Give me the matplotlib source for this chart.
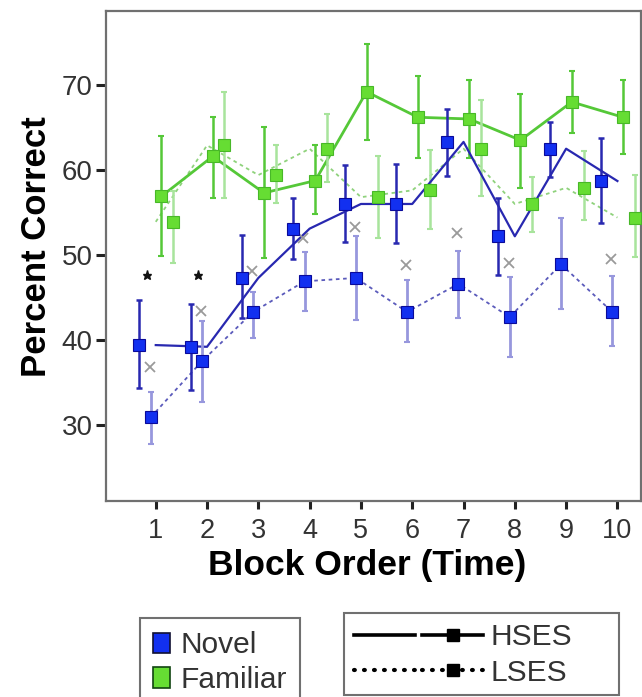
import matplotlib
matplotlib.use('Agg')
import matplotlib.pyplot as plt
import numpy as np
from matplotlib.lines import Line2D
from matplotlib.patches import Patch, Rectangle
from matplotlib.legend_handler import HandlerTuple

plt.rcParams['font.family'] = ['Liberation Sans', 'DejaVu Sans']

# ---------------- data ----------------
blocks = [1, 2, 3, 4, 5, 6, 7, 8, 9, 10]
tick_labels = ['1', '2', '3', '4', '5', '6', '7', '8', '9', '10']

novel_hses = [39.4, 39.2, 47.3, 53.1, 56.0, 56.0, 63.3, 52.2, 62.5, 58.7]
novel_hses_lo = [34.35, 34.1, 42.6, 49.5, 51.5, 51.4, 59.3, 47.6, 59.2, 53.8]
novel_hses_hi = [44.7, 44.2, 52.35, 56.7, 60.6, 60.7, 67.2, 56.7, 65.7, 63.8]

novel_lses = [30.9, 37.5, 43.3, 46.9, 47.3, 43.3, 46.6, 42.7, 48.9, 43.3]
novel_lses_lo = [27.8, 32.7, 40.2, 43.4, 42.35, 39.8, 42.6, 38.0, 43.7, 39.3]
novel_lses_hi = [33.9, 42.2, 45.7, 50.4, 52.2, 47.1, 50.5, 47.45, 54.3, 47.5]

familiar_hses = [56.9, 61.6, 57.3, 58.75, 69.2, 66.2, 66.0, 63.5, 68.0, 66.2]
familiar_hses_lo = [49.9, 56.7, 49.7, 54.8, 63.5, 61.4, 61.45, 57.9, 64.3, 61.9]
familiar_hses_hi = [64.0, 66.2, 65.0, 62.9, 74.8, 71.0, 70.6, 68.9, 71.6, 70.6]

familiar_lses = [53.9, 62.9, 59.4, 62.5, 56.8, 57.6, 62.5, 56.0, 57.9, 54.4]
familiar_lses_lo = [49.0, 56.7, 56.1, 58.6, 52.0, 53.0, 56.9, 52.7, 54.1, 49.8]
familiar_lses_hi = [57.5, 69.2, 62.9, 66.55, 61.6, 62.4, 68.2, 59.2, 62.2, 59.4]

cross_values = [36.8, 43.45, 48.1, 52.0, 53.3, 48.8, 52.6, 49.0, np.nan, 49.5]
star_blocks = [1, 2]
star_values = [47.7, 47.7]

# ---------------- figure ----------------
fig = plt.figure(figsize=(6.42, 6.97), dpi=100)
ax = fig.add_axes([106 / 642, 1 - 501 / 697, (640.5 - 106) / 642, (501 - 11) / 697])

b = np.array(blocks, dtype=float)

def err(m, lo, hi):
    m = np.array(m); lo = np.array(lo); hi = np.array(hi)
    return [m - lo, hi - m]

# colours
NOV_FACE = '#1230f0'
NOV_EDGE = '#0a0a9a'
NOV_H = '#2828b0'
NOV_L_ERR = '#9797dd'
NOV_L_LINE = '#5a5abb'
FAM_FACE = '#66dd33'
FAM_EDGE = '#48b828'
FAM_H = '#55c838'
FAM_L_ERR = '#a8e49c'
FAM_L_LINE = '#8fd27c'

# lines
ax.plot(b, familiar_lses, ls=(0, (2, 2)), color=FAM_L_LINE, lw=1.3, zorder=2)
ax.plot(b + 0.11, familiar_hses, ls='-', color=FAM_H, lw=2.0, zorder=2)
ax.plot(b - 0.10, novel_lses, ls=(0, (2, 2)), color=NOV_L_LINE, lw=1.3, zorder=2)
ax.plot(b, novel_hses, ls='-', color=NOV_H, lw=1.6, zorder=3)

# error bars
ax.errorbar(b + 0.34, familiar_lses, yerr=err(familiar_lses, familiar_lses_lo, familiar_lses_hi),
            fmt='none', ecolor=FAM_L_ERR, elinewidth=1.8, capsize=2, capthick=1.5, zorder=2)
ax.errorbar(b + 0.11, familiar_hses, yerr=err(familiar_hses, familiar_hses_lo, familiar_hses_hi),
            fmt='none', ecolor=FAM_H, elinewidth=1.8, capsize=2, capthick=1.5, zorder=2)
ax.errorbar(b - 0.10, novel_lses, yerr=err(novel_lses, novel_lses_lo, novel_lses_hi),
            fmt='none', ecolor=NOV_L_ERR, elinewidth=2.0, capsize=2, capthick=1.5, zorder=3)
ax.errorbar(b - 0.32, novel_hses, yerr=err(novel_hses, novel_hses_lo, novel_hses_hi),
            fmt='none', ecolor=NOV_H, elinewidth=1.8, capsize=2, capthick=1.8, zorder=3)

# markers
ms = 8.5
ax.plot(b + 0.34, familiar_lses, 's', ms=ms, mfc=FAM_FACE, mec=FAM_EDGE, mew=0.8, zorder=4)
ax.plot(b + 0.11, familiar_hses, 's', ms=ms, mfc=FAM_FACE, mec=FAM_EDGE, mew=0.8, zorder=4)
ax.plot(b - 0.10, novel_lses, 's', ms=ms, mfc=NOV_FACE, mec=NOV_EDGE, mew=0.8, zorder=5)
ax.plot(b - 0.32, novel_hses, 's', ms=ms, mfc=NOV_FACE, mec=NOV_EDGE, mew=0.8, zorder=5)

# gray crosses and stars
ax.plot(b - 0.12, cross_values, 'x', ms=7.5, mew=1.3, color='#9a9a9a', zorder=4)
ax.plot(np.array(star_blocks) - 0.17, star_values, '*', ms=6.5, color='#111111', zorder=4)

# axes formatting
ax.set_xlim(0.03, 10.45)
ax.set_ylim(21.06, 78.7)
ax.set_xticks(blocks)
ax.set_xticklabels(tick_labels)
ax.set_yticks([30, 40, 50, 60, 70])
for s in ax.spines.values():
    s.set_color('#707070')
    s.set_linewidth(1.6)
ax.tick_params(axis='y', direction='out', length=7.5, width=2.2, color='#222222',
               labelsize=20, labelcolor='#333333', pad=2)
ax.tick_params(axis='x', direction='out', length=6, width=2.2, color='#222222',
               labelsize=19.5, labelcolor='#333333', pad=6)
ax.set_xlabel('Block Order (Time)', fontsize=25.5, fontweight='bold', labelpad=4)
ax.set_ylabel('Percent Correct', fontsize=25, fontweight='bold', labelpad=6)
ax.xaxis.label.set_x(0.488)
ax.yaxis.label.set_y(0.52)

# legends
h_nov = Patch(facecolor=NOV_FACE, edgecolor='#111133', lw=1.2)
h_fam = Patch(facecolor=FAM_FACE, edgecolor='#114411', lw=1.2)
leg1 = fig.legend([h_nov, h_fam], ['Novel', 'Familiar'], loc='upper left',
                  bbox_to_anchor=(140 / 642, 1 - 618 / 697), bbox_transform=fig.transFigure,
                  borderaxespad=0, fontsize=21.5, fancybox=False, edgecolor='#707070',
                  handlelength=0.55, handleheight=0.7, handletextpad=0.35, borderpad=0.45,
                  labelspacing=0.22, framealpha=1)
leg1.get_frame().set_linewidth(1.5)
for t in leg1.get_texts():
    t.set_color('#333333')

l_solid = Line2D([], [], color='black', lw=2.6, ls='-')
l_solid_m = Line2D([], [], color='black', lw=2.6, ls='-', marker='s', ms=9)
l_dot = Line2D([], [], color='black', lw=3.0, ls=(0, (0.2, 2.2)), dash_capstyle='round')
l_dot_m = Line2D([], [], color='black', lw=3.0, ls=(0, (0.2, 2.2)), dash_capstyle='round',
                 marker='s', ms=9)
leg2 = fig.legend([(l_solid, l_solid_m), (l_dot, l_dot_m)], ['HSES', 'LSES'], loc='upper left',
                  bbox_to_anchor=(344 / 642, 1 - 613 / 697), bbox_transform=fig.transFigure,
                  borderaxespad=0, fontsize=21.5, frameon=False,
                  handlelength=4.3, handletextpad=0.25, borderpad=0.35, labelspacing=0.25,
                  handler_map={tuple: HandlerTuple(ndivide=2, pad=0.25)})
for t in leg2.get_texts():
    t.set_color('#333333')
fig.patches.append(Rectangle((344 / 642, 1 - 695 / 697), (619 - 344) / 642, (695 - 613) / 697,
                             transform=fig.transFigure, fill=False, edgecolor='#707070',
                             lw=1.5, zorder=5))

fig.savefig('out.png', dpi=100)
